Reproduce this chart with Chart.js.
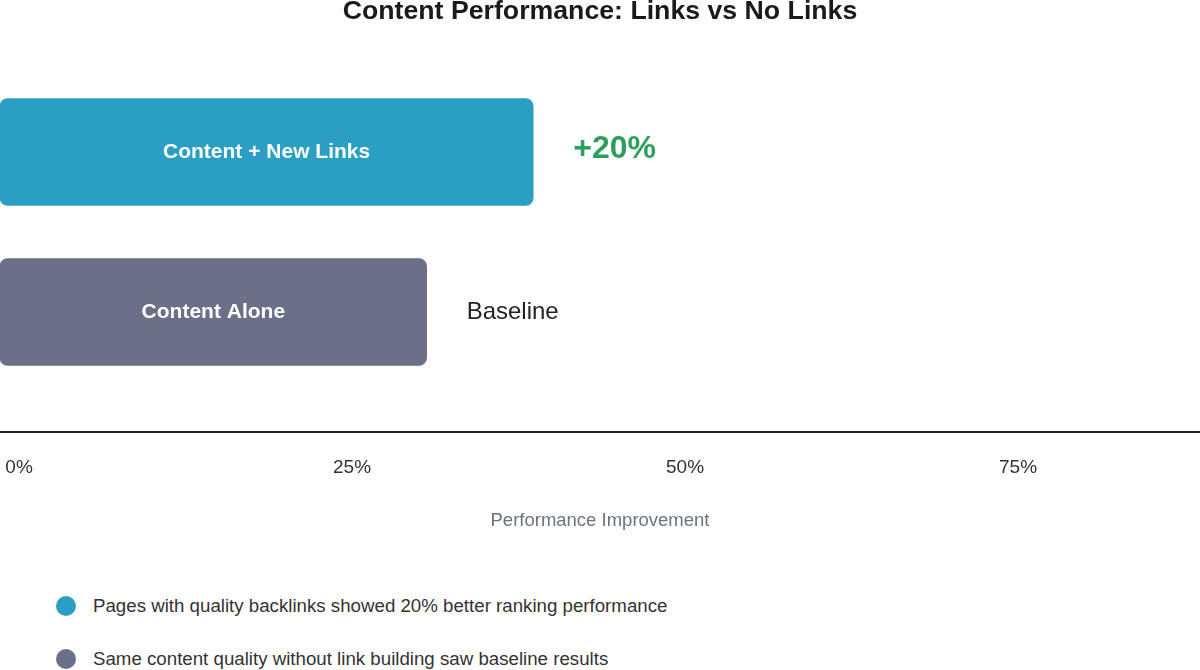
<!DOCTYPE html>
<html>
<head>
<meta charset="utf-8">
<script src="https://cdn.jsdelivr.net/npm/chart.js@4"></script>
<style>
  html, body { margin: 0; padding: 0; background: #fff; }
  body { width: 1200px; height: 670px; position: relative; overflow: hidden; font-family: "Liberation Sans", Arial, sans-serif; }
  #wrap { position: absolute; left: 0; top: 0; width: 1200px; height: 540px; }
  .legend-item { position: absolute; left: 56px; height: 24px; display: flex; align-items: center; font-size: 18.7px; color: #333; }
  .legend-dot { width: 20px; height: 20px; border-radius: 50%; margin-right: 17px; }
</style>
</head>
<body>
<div id="wrap"><canvas id="myChart" width="1200" height="540"></canvas></div>
<div id="legend"></div>
<script>
// data
const categories = ['Content + New Links', 'Content Alone'];
const values = [38.6, 30.6];
const valueLabels = ['+20%', 'Baseline'];
const tickValues = [0, 25, 50, 75];
const legendTexts = [
  'Pages with quality backlinks showed 20% better ranking performance',
  'Same content quality without link building saw baseline results'
];

// styles
const barColors = ['#2b9fc3', '#6b6f87'];
const labelColors = ['#2e9e5c', '#222222'];
const FONT = '"Liberation Sans", Arial, sans-serif';
const X_MIN = -1.43;
const X_MAX = 88.66;

// text inside and next to each bar
const barText = {
  id: 'barText',
  afterDatasetsDraw(chart) {
    const ctx = chart.ctx;
    const meta = chart.getDatasetMeta(0);
    meta.data.forEach((bar, i) => {
      ctx.save();
      ctx.textBaseline = 'middle';
      ctx.fillStyle = '#ffffff';
      ctx.textAlign = 'center';
      ctx.font = 'bold 21px ' + FONT;
      ctx.fillText(categories[i], (bar.base + bar.x) / 2, bar.y);
      ctx.textAlign = 'left';
      ctx.fillStyle = labelColors[i];
      ctx.font = i === 0 ? 'bold 32px ' + FONT : '24px ' + FONT;
      ctx.fillText(valueLabels[i], bar.x + 40, bar.y - (i === 0 ? 3 : 0));
      ctx.restore();
    });
  }
};

var ctx = document.getElementById('myChart').getContext('2d');
var chart = new Chart(ctx, {
  type: 'bar',
  data: {
    datasets: [{
      data: values.map((v, i) => ({ x: v, y: i })),
      backgroundColor: barColors,
      borderRadius: 8,
      borderSkipped: false,
      barThickness: 107,
      base: X_MIN
    }]
  },
  options: {
    indexAxis: 'y',
    responsive: false,
    animation: false,
    maintainAspectRatio: false,
    layout: { padding: 0 },
    plugins: {
      legend: { display: false },
      tooltip: { enabled: false },
      title: {
        display: true,
        text: 'Content Performance: Links vs No Links',
        color: '#1a1a1a',
        font: { family: FONT, size: 26.7, weight: 'bold' },
        padding: { top: -4, bottom: 44 }
      }
    },
    scales: {
      y: {
        type: 'linear',
        reverse: true,
        offset: false,
        min: -0.5,
        max: 1.75,
        display: false
      },
      x: {
        type: 'linear',
        min: X_MIN,
        max: X_MAX,
        grid: { display: true, drawOnChartArea: false, drawTicks: true, tickLength: 24, color: 'rgba(0,0,0,0)' },
        border: { display: true, color: '#222222', width: 2 },
        afterBuildTicks: (axis) => { axis.ticks = tickValues.map(v => ({ value: v })); },
        ticks: {
          color: '#333333',
          padding: 0,
          font: { family: FONT, size: 19 },
          callback: (v) => v + '%'
        },
        title: {
          display: true,
          text: 'Performance Improvement',
          color: '#6b7280',
          font: { family: FONT, size: 18.5 },
          padding: { top: 31, bottom: 8 }
        }
      }
    }
  },
  plugins: [barText]
});

// legend
const legend = document.getElementById('legend');
legendTexts.forEach((t, i) => {
  const item = document.createElement('div');
  item.className = 'legend-item';
  item.style.top = (594 + i * 53) + 'px';
  item.innerHTML = '<span class="legend-dot" style="background:' + barColors[i] + '"></span>' + t;
  legend.appendChild(item);
});
</script>
</body>
</html>
